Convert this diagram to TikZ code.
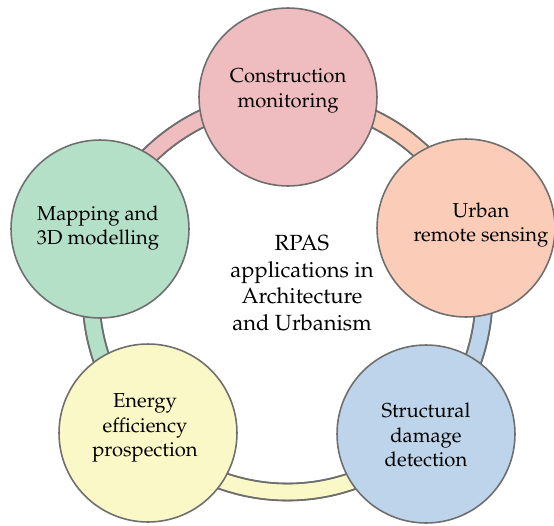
\documentclass[tikz,border=0pt]{standalone}
\usepackage[T1]{fontenc}
\usepackage{mathpazo}
\usepackage{xcolor}
\usetikzlibrary{positioning, calc}

\definecolor{pinkc}{HTML}{EFBCBF}
\definecolor{peachc}{HTML}{FBCDB8}
\definecolor{bluec}{HTML}{BDD4EA}
\definecolor{yellowc}{HTML}{FBF8C8}
\definecolor{greenc}{HTML}{B5E0C8}
\definecolor{edgec}{HTML}{6E6E6E}

\begin{document}
\begin{tikzpicture}[x=0.02cm, y=0.02cm, font=\fontsize{11.5}{14}\selectfont]
    \tikzstyle{app} = [circle, draw=edgec, line width=0.9pt, minimum size=3.56cm, inner sep=0pt]
    \tikzstyle{lbl} = [align=center, inner sep=0pt]
    \tikzstyle{band} = [draw=edgec, line width=0.9pt]

    \useasboundingbox (0,0) rectangle (554,525);
    \coordinate (hub) at (287.5,229.5);

    % ring pieces (inner 188, outer 205)
    \fill[band, fill=pinkc]   ($(hub)+(160:205)$) arc (160:90:205) -- ($(hub)+(90:188)$) arc (90:160:188) -- cycle;
    \fill[band, fill=peachc]  ($(hub)+(90:205)$) arc (90:20:205) -- ($(hub)+(20:188)$) arc (20:90:188) -- cycle;
    \fill[band, fill=bluec]   ($(hub)+(20:205)$) arc (20:-45:205) -- ($(hub)+(-45:188)$) arc (-45:20:188) -- cycle;
    \fill[band, fill=yellowc] ($(hub)+(-45:205)$) arc (-45:-135:205) -- ($(hub)+(-135:188)$) arc (-135:-45:188) -- cycle;
    \fill[band, fill=greenc]  ($(hub)+(-135:205)$) arc (-135:-200:205) -- ($(hub)+(-200:188)$) arc (-200:-135:188) -- cycle;
    \draw[band] ($(hub)+(160:205)$) arc (160:-200:205);
    \draw[band] ($(hub)+(160:188)$) arc (160:-200:188);

    \node (cons) [app, fill=pinkc] at (288,428) {};
    \node (urban) [app, fill=peachc] at (466,297) {};
    \node (damage) [app, fill=bluec] at (426,91) {};
    \node (energy) [app, fill=yellowc] at (148,92) {};
    \node (mapping) [app, fill=greenc] at (100,296) {};

    \node (consT) [lbl] at (288,434) {Construction\\monitoring};
    \node (urbanT) [lbl] at (481,300) {Urban\\remote sensing};
    \node (damageT) [lbl] at (426,90) {Structural\\damage\\detection};
    \node (energyT) [lbl] at (145,97) {Energy\\efficiency\\prospection};
    \node (mappingT) [lbl] at (98,297) {Mapping and\\3D modelling};

    \node (title) [lbl, font=\fontsize{12.5}{15.2}\selectfont] at (302,242) {RPAS\\applications in\\Architecture\\and Urbanism};
\end{tikzpicture}
\end{document}
